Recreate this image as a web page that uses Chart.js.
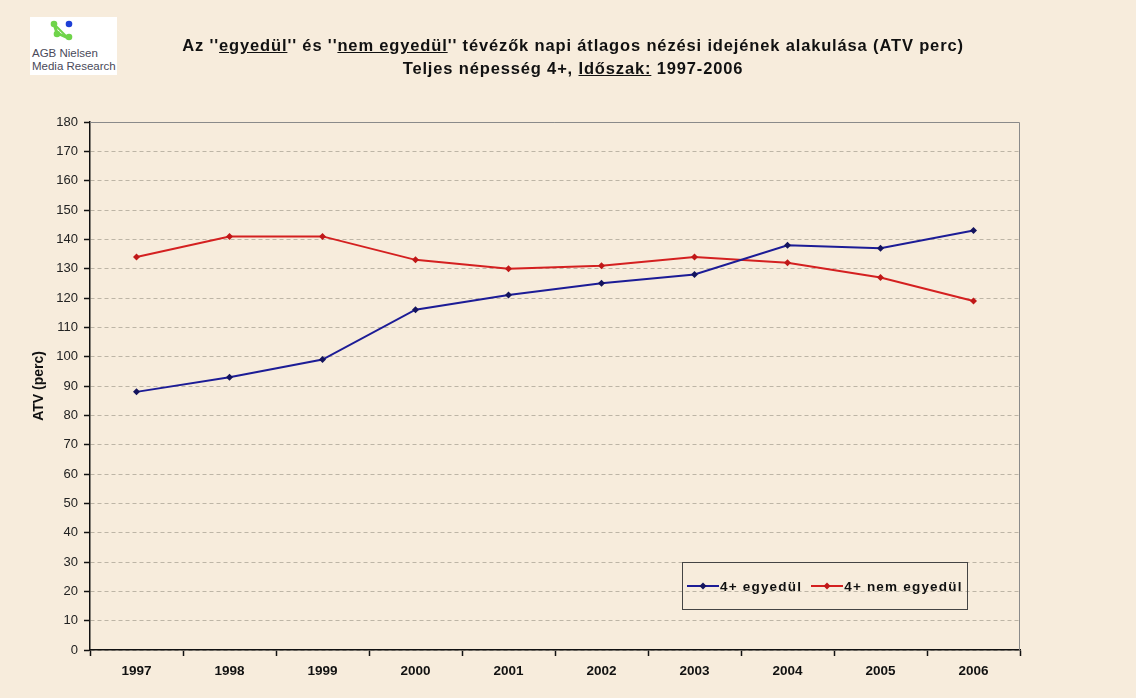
<!DOCTYPE html>
<html>
<head>
<meta charset="utf-8">
<script src="https://cdn.jsdelivr.net/npm/chart.js@4/dist/chart.umd.min.js"></script>
<style>
  html, body { margin:0; padding:0; background:#F7ECDC; }
  #wrap { position:relative; width:1136px; height:698px; overflow:hidden; background:#F7ECDC; font-family:"Liberation Sans", Arial, sans-serif; }
  #c { position:absolute; left:0; top:0; }
  #logo { position:absolute; left:30px; top:17px; width:87px; height:58px; background:#fff; }
  #logo .t { position:absolute; left:2px; top:30px; font-size:11.5px; line-height:13px; color:#4a4a5a; white-space:nowrap; }
  #title { position:absolute; left:0; width:1146px; top:34px; text-align:center; font-weight:bold; font-size:16.5px; line-height:23px; letter-spacing:0.85px; color:#111; }
  #legend { position:absolute; left:682px; top:562px; width:286px; height:48px; border:1.5px solid #444; box-sizing:border-box; display:flex; align-items:center; padding-left:4px; font-weight:bold; font-size:13.5px; letter-spacing:1.2px; color:#111; }
  #legend .it { display:flex; align-items:center; margin-right:9px; white-space:nowrap; }
  #legend svg { margin-right:1px; }
</style>
</head>
<body>
<div id="wrap">
  <canvas id="c" width="1136" height="698"></canvas>
  <div id="logo">
    <svg width="87" height="30" style="position:absolute;left:0;top:0">
      <line x1="24" y1="7" x2="27" y2="16" stroke="#6fd44a" stroke-width="3"/>
      <line x1="27" y1="16" x2="38" y2="21" stroke="#6fd44a" stroke-width="3"/>
      <line x1="24" y1="7" x2="38" y2="21" stroke="#6fd44a" stroke-width="2"/>
      <circle cx="24" cy="7" r="3.3" fill="#6fd44a"/>
      <circle cx="27" cy="17" r="3.3" fill="#6fd44a"/>
      <circle cx="39" cy="20" r="3.3" fill="#6fd44a"/>
      <circle cx="39" cy="7" r="3.3" fill="#1d3fd6"/>
    </svg>
    <div class="t">AGB Nielsen<br>Media Research</div>
  </div>
  <div id="title">Az ''<u>egyedül</u>'' és ''<u>nem egyedül</u>'' tévézők napi átlagos nézési idejének alakulása (ATV perc)<br>Teljes népesség 4+, <u>Időszak:</u> 1997-2006</div>
  <div id="legend">
    <div class="it"><svg width="32" height="10"><line x1="0" y1="5" x2="32" y2="5" stroke="#1c1c96" stroke-width="2"/><polygon points="16,1.5 19.5,5 16,8.5 12.5,5" fill="#14145e"/></svg>4+ egyedül</div>
    <div class="it"><svg width="32" height="10"><line x1="0" y1="5" x2="32" y2="5" stroke="#d42020" stroke-width="2"/><polygon points="16,1.5 19.5,5 16,8.5 12.5,5" fill="#c01818"/></svg>4+ nem egyedül</div>
  </div>
</div>
<script>
const years = ['1997','1998','1999','2000','2001','2002','2003','2004','2005','2006'];
const egyedul = [88, 93, 99, 116, 121, 125, 128, 138, 137, 143];
const nemEgyedul = [134, 141, 141, 133, 130, 131, 134, 132, 127, 119];
const seriesNames = ['4+ egyedül', '4+ nem egyedül'];
const yTitle = 'ATV (perc)';

const framePlugin = {
  id: 'frame',
  beforeDatasetsDraw(chart) {
    const a = chart.chartArea, ctx = chart.ctx;
    ctx.save();
    ctx.strokeStyle = '#8a8a8a';
    ctx.lineWidth = 1;
    ctx.beginPath();
    ctx.moveTo(a.left, a.top + 0.5);
    ctx.lineTo(a.right - 0.5, a.top + 0.5);
    ctx.lineTo(a.right - 0.5, a.bottom);
    ctx.stroke();
    ctx.restore();
  }
};

new Chart(document.getElementById('c'), {
  type: 'line',
  data: {
    labels: years,
    datasets: [
      { label: seriesNames[0], data: egyedul, borderColor: '#1c1c96', backgroundColor: '#14145e', borderWidth: 2,
        pointStyle: 'rectRot', pointRadius: 3.5, pointBorderWidth: 0, tension: 0 },
      { label: seriesNames[1], data: nemEgyedul, borderColor: '#d42020', backgroundColor: '#c01818', borderWidth: 2,
        pointStyle: 'rectRot', pointRadius: 3.5, pointBorderWidth: 0, tension: 0 }
    ]
  },
  options: {
    responsive: false,
    animation: false,
    devicePixelRatio: 1,
    layout: { padding: { left: 28, top: 122, right: 116, bottom: 0 } },
    plugins: { legend: { display: false }, title: { display: false }, tooltip: { enabled: false } },
    scales: {
      x: {
        offset: true,
        afterFit(s) { s.height = 48; },
        grid: { offset: true, drawOnChartArea: false, drawTicks: true, tickLength: 6, tickColor: '#111', tickWidth: 1.5 },
        border: { display: true, color: '#111', width: 1.5 },
        ticks: { padding: 7, color: '#111', font: { family: 'Liberation Sans', size: 13.5, weight: 'bold' } }
      },
      y: {
        min: 0, max: 180,
        afterFit(s) { s.width = 62; },
        grid: { color: '#bdb5a6', lineWidth: 1, drawTicks: true, tickLength: 6, tickColor: '#111', tickWidth: 1.5, tickBorderDash: [0, 0] },
        border: { display: true, color: '#111', width: 1.5, dash: [4, 3] },
        ticks: { stepSize: 10, padding: 6, color: '#222', font: { family: 'Liberation Sans', size: 13 } },
        title: { display: true, text: yTitle, color: '#111', padding: { top: 3, bottom: 0 }, font: { family: 'Liberation Sans', size: 14, weight: 'bold' } }
      }
    }
  },
  plugins: [framePlugin]
});
</script>
</body>
</html>
